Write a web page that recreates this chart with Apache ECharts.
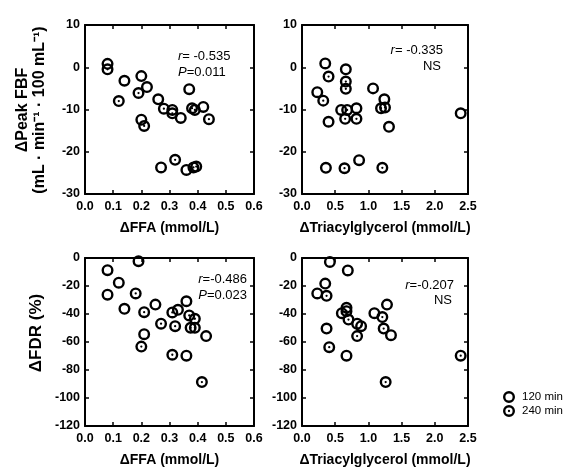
<!DOCTYPE html>
<html><head><meta charset="utf-8">
<script src="https://cdn.jsdelivr.net/npm/echarts@6/dist/echarts.min.js"></script>
<style>html,body{margin:0;padding:0;background:#fff}#c{width:571px;height:468px}</style>
</head><body><div id="c"></div>
<script>
// ---- data ----
const ffaTicks = [0.0, 0.1, 0.2, 0.3, 0.4, 0.5, 0.6];
const tgTicks = [0.0, 0.5, 1.0, 1.5, 2.0, 2.5];
const fbfTicks = [10, 0, -10, -20, -30];
const fdrTicks = [0, -20, -40, -60, -80, -100, -120];
const seriesNames = ['120 min', '240 min'];

// Panel A: ΔPeak FBF vs ΔFFA
const ffaFbf120 = [[0.08,0.8],[0.14,-3.2],[0.20,-2.1],[0.22,-4.7],[0.20,-12.4],[0.26,-7.6],[0.31,-10.1],[0.34,-12.0],[0.37,-5.2],[0.42,-9.4],[0.27,-23.7],[0.36,-24.3]];
const ffaFbf240 = [[0.08,-0.5],[0.12,-8.0],[0.19,-6.1],[0.21,-13.9],[0.28,-9.8],[0.31,-10.9],[0.38,-9.7],[0.39,-10.1],[0.44,-12.3],[0.32,-21.9],[0.385,-23.7],[0.395,-23.5]];
// Panel B: ΔPeak FBF vs ΔTriacylglycerol
const tgFbf120 = [[0.35,0.9],[0.66,-0.5],[0.23,-5.9],[1.07,-5.0],[1.24,-7.6],[0.59,-10.1],[0.82,-9.7],[0.40,-12.9],[2.39,-10.9],[0.36,-23.8],[0.86,-22.0],[1.31,-14.1]];
const tgFbf240 = [[0.40,-2.2],[0.66,-3.4],[0.66,-5.1],[0.32,-7.9],[1.19,-9.7],[1.25,-9.5],[0.68,-10.1],[0.65,-12.2],[0.82,-12.2],[0.64,-23.9],[1.21,-23.8]];
// Panel C: ΔFDR vs ΔFFA
const ffaFdr120 = [[0.19,-2.3],[0.08,-8.7],[0.12,-17.6],[0.08,-26.2],[0.14,-36.3],[0.21,-54.4],[0.25,-33.3],[0.33,-37.0],[0.36,-30.9],[0.43,-55.8],[0.36,-69.8]];
const ffaFdr240 = [[0.18,-25.3],[0.21,-38.7],[0.20,-63.3],[0.27,-46.9],[0.31,-38.9],[0.32,-48.7],[0.31,-69.1],[0.37,-41.0],[0.39,-43.4],[0.375,-49.9],[0.39,-49.9],[0.415,-88.6]];
// Panel D: ΔFDR vs ΔTriacylglycerol
const tgFdr120 = [[0.42,-2.8],[0.69,-8.9],[0.35,-18.3],[0.23,-25.3],[0.67,-35.6],[0.37,-50.4],[0.67,-69.8],[0.83,-46.9],[1.09,-39.4],[1.28,-33.3],[1.34,-55.1]];
const tgFdr240 = [[0.37,-27.0],[0.67,-38.0],[0.60,-39.4],[0.70,-44.0],[0.41,-63.7],[0.89,-48.7],[0.83,-55.8],[1.21,-42.2],[1.23,-50.4],[1.26,-88.6],[2.39,-69.8]];

const stats = [
  {r: '-0.535', p: '0.011'},
  {r: '-0.335', p: null},
  {r: '-0.486', p: '0.023'},
  {r: '-0.207', p: null}
];

// ---- chart ----
const FONT = '"Liberation Sans", Arial, sans-serif';
const ring = 'M0,10A10,10,0,1,1,20,10A10,10,0,1,1,0,10ZM4,10A6,6,0,1,0,16,10A6,6,0,1,0,4,10Z';
const sym120 = 'path://' + ring;
const sym240 = 'path://' + ring + 'M8.1,10A1.9,1.9,0,1,1,11.9,10A1.9,1.9,0,1,1,8.1,10Z';

const grids = [
  {left: 85, top: 25, width: 169, height: 169},
  {left: 302, top: 25, width: 166, height: 169},
  {left: 85, top: 258, width: 169, height: 170},
  {left: 302, top: 258, width: 166, height: 170}
];
const xDefs = [
  {ticks: ffaTicks, name: 'ΔFFA (mmol/L)'},
  {ticks: tgTicks, name: 'ΔTriacylglycerol (mmol/L)'},
  {ticks: ffaTicks, name: 'ΔFFA (mmol/L)'},
  {ticks: tgTicks, name: 'ΔTriacylglycerol (mmol/L)'}
];
const yDefs = [fbfTicks, fbfTicks, fdrTicks, fdrTicks];
const panelData = [[ffaFbf120, ffaFbf240],[tgFbf120, tgFbf240],[ffaFdr120, ffaFdr240],[tgFdr120, tgFdr240]];

const axisLine = {show: true, onZero: false, lineStyle: {color: '#000', width: 2}};
const axisTick = {show: true, inside: true, length: 4, lineStyle: {color: '#000', width: 1.5}};
const labelStyle = {color: '#000', fontFamily: FONT, fontWeight: 'bold', fontSize: 12.5};

const xAxis = [], yAxis = [], series = [];
for (let g = 0; g < 4; g++) {
  const xt = xDefs[g].ticks;
  const xmin = xt[0], xmax = xt[xt.length - 1], xint = xt[1] - xt[0];
  const yt = yDefs[g];
  const ymax = yt[0], ymin = yt[yt.length - 1], yint = yt[0] - yt[1];
  ['bottom', 'top'].forEach((pos, k) => {
    xAxis.push({
      type: 'value', gridIndex: g, position: pos, min: xmin, max: xmax, interval: xint,
      axisLine, axisTick, splitLine: {show: false},
      axisLabel: {show: k === 0, margin: 6, formatter: v => v.toFixed(1), showMinLabel: true, showMaxLabel: true, ...labelStyle},
      name: k === 0 ? xDefs[g].name : '', nameLocation: 'middle', nameGap: 27,
      nameTextStyle: {color: '#000', fontFamily: FONT, fontWeight: 'bold', fontSize: 14}
    });
  });
  ['left', 'right'].forEach((pos, k) => {
    yAxis.push({
      type: 'value', gridIndex: g, position: pos, min: ymin, max: ymax, interval: yint,
      axisLine, axisTick, splitLine: {show: false},
      axisLabel: {show: k === 0, margin: 5, showMinLabel: true, showMaxLabel: true, ...labelStyle}
    });
  });
  [sym120, sym240].forEach((sym, s) => {
    series.push({
      type: 'scatter', name: seriesNames[s], xAxisIndex: 2 * g, yAxisIndex: 2 * g,
      symbol: sym, symbolSize: 12, data: panelData[g][s],
      itemStyle: {color: '#000', opacity: 1}, silent: true
    });
  });
}

function statText(x, y, txt, align) {
  return {type: 'text', x, y, silent: true, style: {
    text: txt, align, verticalAlign: 'middle', fill: '#000',
    font: '13px ' + FONT,
    rich: {i: {fontStyle: 'italic', fontSize: 13, fontFamily: FONT, fill: '#000'}}
  }};
}

const graphic = [
  {type: 'text', x: 31, y: 110, rotation: Math.PI / 2, silent: true, style: {
    text: 'ΔPeak FBF\n(mL · min⁻¹ · 100 mL⁻¹)', align: 'center', verticalAlign: 'middle',
    fill: '#000', font: 'bold 16px ' + FONT, lineHeight: 17}},
  {type: 'text', x: 36, y: 333, rotation: Math.PI / 2, silent: true, style: {
    text: 'ΔFDR (%)', align: 'center', verticalAlign: 'middle',
    fill: '#000', font: 'bold 17px ' + FONT}},
  statText(178, 56, '{i|r}= ' + stats[0].r, 'left'),
  statText(178, 72, '{i|P}=' + stats[0].p, 'left'),
  statText(443, 50, '{i|r}= ' + stats[1].r, 'right'),
  statText(441, 66, 'NS', 'right'),
  statText(247, 279, '{i|r}=' + stats[2].r, 'right'),
  statText(247, 295, '{i|P}=' + stats[2].p, 'right'),
  statText(454, 285, '{i|r}=' + stats[3].r, 'right'),
  statText(452, 300, 'NS', 'right')
];

const chart = echarts.init(document.getElementById('c'), null, {renderer: 'canvas'});
chart.setOption({
  animation: false,
  backgroundColor: '#fff',
  grid: grids,
  xAxis, yAxis, series, graphic,
  legend: {
    data: seriesNames, orient: 'vertical', left: 498, top: 386,
    itemWidth: 12, itemHeight: 12, itemGap: 2,
    textStyle: {color: '#000', fontFamily: FONT, fontSize: 11.5, padding: [0, 0, 0, 2]}
  }
});
</script>
</body></html>
